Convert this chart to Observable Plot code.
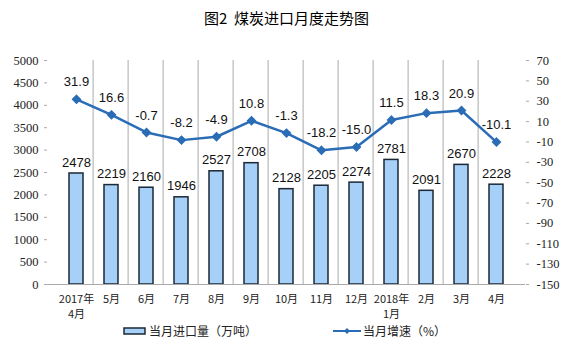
<!DOCTYPE html>
<html><head><meta charset="utf-8">
<script src="https://cdn.jsdelivr.net/npm/d3@7"></script>
<script src="https://cdn.jsdelivr.net/npm/@observablehq/plot@0.6"></script>
<style>
body{margin:0;background:#fff;font-family:"Noto Sans CJK SC",sans-serif;}
#wrap{width:573px;}
#title{height:36px;line-height:36px;text-align:center;font-size:15px;color:#000;}
#legend{font-size:12px;color:#222;height:30px;}
.li{display:flex;align-items:center;position:absolute;}
</style></head>
<body><div id="wrap">
<div id="title">图2&nbsp; 煤炭进口月度走势图</div>
<div id="chart"></div>
<div id="legend" style="position:relative">
  <div class="li" style="left:123px;top:2px"><svg width="24" height="10"><rect x="1" y="2" width="21" height="6" fill="#a6d0f7" stroke="#1b2836" stroke-width="1.5"/></svg><span style="margin-left:2px">当月进口量（万吨）</span></div>
  <div class="li" style="left:333px;top:2px"><svg width="28" height="10"><line x1="0" y1="5" x2="28" y2="5" stroke="#2a6cb5" stroke-width="2"/><path d="M14,2 L17,5 L14,8 L11,5Z" fill="#2a6cb5"/></svg><span style="margin-left:2px">当月增速（%）</span></div>
</div>
</div>
<script>
const months = ["2017年\n4月","5月","6月","7月","8月","9月","10月","11月","12月","2018年\n1月","2月","3月","4月"];
const imports = [2478,2219,2160,1946,2527,2708,2128,2205,2274,2781,2091,2670,2228];
const growth = [31.9,16.6,-0.7,-8.2,-4.9,10.8,-1.3,-18.2,-15.0,11.5,18.3,20.9,-10.1];
const leftTicks = [0,500,1000,1500,2000,2500,3000,3500,4000,4500,5000];
const rightTicks = [-150,-130,-110,-90,-70,-50,-30,-10,10,30,50,70];

const rMin = -150, rMax = 70, lMax = 5000;
const toLeft = v => (v - rMin) / (rMax - rMin) * lMax;

const data = months.map((m,i)=>({m, v: imports[i], g: growth[i], gy: toLeft(growth[i])}));

const chart = Plot.plot({
  width: 573, height: 284,
  marginLeft: 47, marginRight: 48, marginTop: 24, marginBottom: 36,
  style: {fontFamily: "Liberation Sans, sans-serif", fontSize: "12px", color: "#222", background: "#fff"},
  x: {domain: months, padding: 0.59, label: null},
  y: {domain: [0, lMax], label: null},
  marks: [
    Plot.barY(data, {x: "m", y: "v", fill: "#a6d0f7", stroke: "#1b2836", strokeWidth: 1.5}),
    Plot.axisY({ticks: leftTicks, anchor: "left", tickSize: 3, stroke: "#aaa", label: null, tickFormat: d => String(d), tickPadding: 6}),
    Plot.axisY({ticks: rightTicks.map(toLeft), anchor: "right", tickSize: 3, stroke: "#aaa", label: null, tickFormat: v => String(Math.round(v/lMax*(rMax-rMin)+rMin)), tickPadding: 8}),
    Plot.ruleX([0], {x: months[0], dx: -18.4, stroke: "#aaa"}),
    Plot.ruleX([0], {x: months[12], dx: 18.4, stroke: "#aaa"}),
    Plot.ruleY([0], {stroke: "#aaa"}),
    Plot.tickX(months.slice(1), {x: d=>d, dx: -18.4, y1: 0, y2: 0, stroke: "#aaa"}),
    Plot.axisX({tickSize: 0, tickPadding: 8, fontFamily: "Noto Sans CJK SC, sans-serif", fontSize: 11, label: null, lineHeight: 1.35}),
    Plot.line(data, {x: "m", y: "gy", stroke: "#2a6cb5", strokeWidth: 2.5}),
    Plot.dot(data, {x: "m", y: "gy", symbol: "diamond2", r: 3.5, fill: "#2a6cb5", stroke: "#2a6cb5"}),
    Plot.text(data, {x: "m", y: "v", text: d => String(d.v), dy: -11, fontSize: 13, fill: "#111", fontFamily: "Liberation Sans, Arial, sans-serif"}),
    Plot.text(data, {x: "m", y: "gy", text: d => d.g.toFixed(1), dy: -17, fontSize: 13, fill: "#111", fontFamily: "Liberation Sans, Arial, sans-serif"})
  ]
});
d3.select(chart).selectAll('g[aria-label="y-axis tick label"]')
  .style("font-family", "'Liberation Serif', serif").style("font-size", "12.5px")
  .selectAll("text").style("font-family", "'Liberation Serif', serif");
document.getElementById("chart").appendChild(chart);
</script>
</body></html>
